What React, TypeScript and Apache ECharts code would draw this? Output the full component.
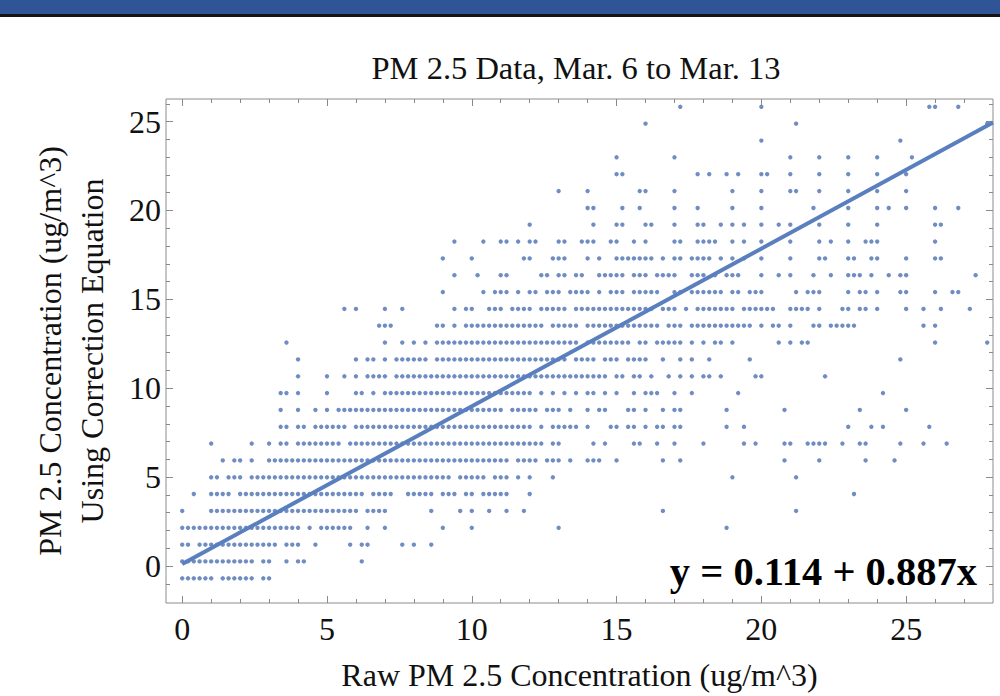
import React, { useEffect, useRef } from "react";
import * as echarts from "echarts";

// Quantized y levels (corrected concentration rows)
const ROW_Y = [
  -0.69, 0.26, 1.2, 2.15, 3.1, 4.05, 4.99, 5.94, 6.89, 7.83, 8.78, 9.73, 10.67, 11.62, 12.57,
  13.52, 14.46, 15.41, 16.36, 17.3, 18.25, 19.2, 20.14, 21.09, 22.04, 22.99, 23.93, 24.88, 25.83,
];

// Each row: one group per x unit, 5 cells per unit (x = unit + 0.2 * cell), '#' = point.
// '|' separates blocks of 5 units, '-' is an empty block of 5 units.
const ROWS = [
  "##### #.### ###.# #....",
  "##### ##### ###.# #..#. ##... | ..... .#...",
  "##.## ##### ##### ##.## #..#. | ....# .##.. ...#. #..#.",
  "##### ##### ##### ##### #.#.# | ##### ..#.. #.... ..... #.... | #.... ..... ..... #.... ..... | ..... ..... ..... ....#",
  "#.... ##### ##### ##### ##### | ##### #.### #.... ...#. ...#. | #..#. .#..# ..... ..... ..... | ..... ...#. ..... ..... ..... | ..... .#...",
  "..#.. ####. ##### ##### ##### | ##### ##.## ##..# ####. ###.# | #.### ##... #.... ..... ..... | - | ..... ..... ..... .#...",
  "..... ##.## #.### ##### ##### | ##### ##### ##### ##### ##.## | ###.# ##.#. #...# ..... ..... | ..... ..... ..... ..... #.... | ..... .#...",
  "..... ..#.# #.#.. ##### ##### | ##### ##### ##### ##### ##### | ##### ##.## ##.## #.#.. ###.. | #.... ...#. .#... ..... ..... | ....# ..... #.... ...#. ...#.",
  "..... #.... ..#.. #.##. ##### | ###.# ##### ##### ##### ##### | ##### ##### ###.# #.... .#.#. | ...## ..#.. #.... #.... ..#.# | ....# #..## ##..# ..##. ....# | ...#. ..#..",
  "..... ..... ..... ..##. ##.## | ####. ##### ##### ##### ##### | ##### ##### #.#.# ####. #...# | #.##. #.##. ##... ....# ..#.. | ..... ..... ..... #...# .#... | ....#",
  "..... ..... ..... ..#.. #..#. | #.### ##### ##### ##### ##### | ##### #.### ##.## #.#.. #.##. | ..##. #..#. ##... ....# ..... | ....# ..... ..... ..#.. ..... | #....",
  "..... ..... ..... ..##. #.... | #.... ##.#. ##### ##### ##### | ##### ##### #.#.# .#.#. ##.#. | #..#. ###.. #..#. ..... .#... | ..... ..... ..... ..... .#...",
  "..... ..... ..... ..... #.... | #..#. #.### #.### ##### ##### | ##### ##### ##### ##### ####. | ##.## .#..# .#.#. ##.#. ....# | #.... ..... .#...",
  "..... ..... ..... ..... #.... | ..... #.##. #.### ###.# ##### | ##### ##### ##### ##.## ##.## | #.### #..#. .#.#. .#... ...#. | ..... ..... ..... ..... ....#",
  "..... ..... ..... ...#. ..... | ..... ..... #..#. #.#.# ##### | ##### ##### ##### ####. ##### | ###.# #.### ##.#. #.##. #.... | ...#. #.##. ..... ..... ..... | ..... #.... ....#",
  "- | ..... ....# ##... ....# #.#.# | ##### ##### ###.# ####. ##### | ##### ###.# ##.## ##### ####. | #.##. #...# #.### ##... ..... | ...#. #....",
  "- | ...#. #.... #..#. ..... ..#.# | #..## #.### #.### ##.## ##### | ##### ##.## #.#.# ##### #.### | ###.. ####. #...# #.##. #.... | #..#. .#... .#...",
  "- | ..... ..... ..... ..... #.... | ..#.# ##.#. ##.## #.### #.#.# | ##.## ###.. ##.## ####. ##.## | #.... .#.## #.... #.##. #...# | #.... #..##",
  "- | ..... ..... ..... ..... ..#.. | .#... ##... ..##. ##.## ..### | ##.## #.### #..## #.#.# ##... | #..#. #...# ..#.. ###.# ..#.# | #.... ..... ..#..",
  "- | ..... ..... ..... ..... #.... | #.... ....# #...# ##... #.#.. | ##### ##.#. ##.## ##.#. #.#.. | #.... #.... ##... ##..# #.... | #.... ##...",
  "- | ..... ..... ..... ..... ..#.. | ..#.. ##.#. ##... ##..# ##..# | #..#. #.... ##..# ###.. #.#.. | #.... #.... #.#.. #..## #.... | ..... #....",
  "- | - | ..... ..... #.... ..... .#... | ##... ##... #...# #..#. #.#.. | #..#. #.... #.... #.... #.... | ..... ##...",
  "- | - | ..... ..... ..... ..... ##... | .#..# ..... #...# ..... #.... | #.... ....# ..... #.... #.#.. | #.... #...#",
  "- | - | ..... ..... ..... #.... #.... | ....# #.... #.... ..... #.... | #.... ##... #.... #.... #.... | #....",
  "- | - | - | ##... ..... ....# .#..# .#... | ##... #.... #.... #.... #.... | #....",
  "- | - | - | #.... ..... #.... ..... ..... | ..... #.... #.... #.... #.... | .#...",
  "- | - | - | - | #.... ..... ..... ..... ....#",
  "- | - | - | ..... #.... ..... ..... ..... | ..... .#... ..... ..... ..... | ..... ..... ....#",
  "- | - | - | ..... ..... .#... ..... ..... | #.... ..... ..... ..... ..... | ....# #...#",
];

// Fitted line y = 0.114 + 0.887x, drawn over the raw range
const FIT_LINE = [
  [0, 0.114],
  [28, 24.95],
];
const EQUATION = "y = 0.114 + 0.887x";

const X_MIN = -0.56;
const X_MAX = 28;
const Y_MIN = -2.08;
const Y_MAX = 26.27;
const MAJOR_TICKS = [0, 5, 10, 15, 20, 25];
const X_MINOR_TICKS = [0, 1, 2, 3, 4, 5, 6, 7, 8, 9, 10, 11, 12, 13, 14, 15, 16, 17, 18, 19, 20, 21, 22, 23, 24, 25, 26, 27];
const Y_MINOR_TICKS = [-1, 0, 1, 2, 3, 4, 5, 6, 7, 8, 9, 10, 11, 12, 13, 14, 15, 16, 17, 18, 19, 20, 21, 22, 23, 24, 25, 26];

const TITLE = "PM 2.5 Data, Mar. 6 to Mar. 13";
const X_NAME = "Raw PM 2.5 Concentration (ug/m^3)";
const Y_NAME = "PM 2.5 Concentration (ug/m^3)\nUsing Correction Equation";

function decodeRow(s: string): number[] {
  const xs: number[] = [];
  let unit = 0;
  for (const block of s.split("|")) {
    const b = block.trim();
    if (b === "-") {
      unit += 5;
      continue;
    }
    for (const g of b.split(/\s+/).filter(Boolean)) {
      for (let i = 0; i < g.length; i++) {
        if (g[i] === "#") xs.push(Math.round((unit + i * 0.2) * 10) / 10);
      }
      unit++;
    }
  }
  return xs;
}

export default function App() {
  const ref = useRef<HTMLDivElement>(null);

  useEffect(() => {
    if (!ref.current) return;
    const chart = echarts.init(ref.current, null, { renderer: "svg" });
    const points: number[][] = [];
    ROWS.forEach((r, k) => {
      decodeRow(r).forEach((x) => points.push([x, ROW_Y[k]]));
    });

    const font = "Liberation Serif";
    const tickColor = "#8a8a8a";
    const labelStyle = { fontFamily: font, fontSize: 32, color: "#111" };

    const xAxisDef = (pos: string, vals: number[], len: number, withLabels: boolean) => ({
      type: "value",
      position: pos,
      min: X_MIN,
      max: X_MAX,
      axisLine: { show: false, onZero: false },
      splitLine: { show: false },
      axisTick: { show: true, inside: true, length: len, customValues: vals, lineStyle: { color: tickColor, width: 1 } },
      axisLabel: withLabels
        ? { show: true, customValues: MAJOR_TICKS, margin: 10, ...labelStyle }
        : { show: false },
    });
    const yAxisDef = (pos: string, vals: number[], len: number, withLabels: boolean) => ({
      type: "value",
      position: pos,
      min: Y_MIN,
      max: Y_MAX,
      axisLine: { show: false, onZero: false },
      splitLine: { show: false },
      axisTick: { show: true, inside: true, length: len, customValues: vals, lineStyle: { color: tickColor, width: 1 } },
      axisLabel: withLabels
        ? { show: true, customValues: MAJOR_TICKS, margin: 5, ...labelStyle }
        : { show: false },
    });

    const xMain: any = xAxisDef("bottom", MAJOR_TICKS, 7, true);
    xMain.name = X_NAME;
    xMain.nameLocation = "middle";
    xMain.nameGap = 56;
    xMain.nameTextStyle = { fontFamily: font, fontSize: 32, color: "#111" };

    const yMain: any = yAxisDef("left", MAJOR_TICKS, 7, true);
    yMain.name = Y_NAME;
    yMain.nameLocation = "middle";
    yMain.nameRotate = 90;
    yMain.nameGap = 53;
    yMain.nameTextStyle = { fontFamily: font, fontSize: 32, lineHeight: 42, color: "#111" };

    chart.setOption({
      animation: false,
      backgroundColor: "#ffffff",
      title: {
        text: TITLE,
        left: 576,
        top: 51,
        textAlign: "center",
        padding: 0,
        textStyle: { fontFamily: font, fontSize: 32.5, fontWeight: "normal", color: "#111" },
      },
      grid: {
        left: 166,
        right: 7,
        top: 99,
        bottom: 89,
        show: true,
        borderColor: "#8c8c8c",
        borderWidth: 1,
        backgroundColor: "transparent",
      },
      xAxis: [
        xMain,
        xAxisDef("bottom", X_MINOR_TICKS, 4, false),
        xAxisDef("top", MAJOR_TICKS, 7, false),
        xAxisDef("top", X_MINOR_TICKS, 4, false),
      ],
      yAxis: [
        yMain,
        yAxisDef("left", Y_MINOR_TICKS, 4, false),
        yAxisDef("right", MAJOR_TICKS, 7, false),
        yAxisDef("right", Y_MINOR_TICKS, 4, false),
      ],
      series: [
        {
          type: "scatter",
          xAxisIndex: 0,
          yAxisIndex: 0,
          data: points,
          symbol: "circle",
          symbolSize: 4.4,
          itemStyle: { color: "#5f81bd", opacity: 0.9 },
          silent: true,
        },
        {
          type: "line",
          xAxisIndex: 0,
          yAxisIndex: 0,
          data: FIT_LINE,
          symbol: "none",
          lineStyle: { color: "#5a7fbe", width: 4 },
          silent: true,
        },
      ],
      graphic: [
        { type: "rect", shape: { x: 0, y: 0, width: 1000, height: 14 }, style: { fill: "#2f5597" } },
        { type: "rect", shape: { x: 0, y: 14, width: 1000, height: 3 }, style: { fill: "#141414" } },
        {
          type: "text",
          x: 977,
          y: 571,
          style: {
            text: EQUATION,
            fontFamily: font,
            fontSize: 40.5,
            fontWeight: "bold",
            fill: "#000",
            textAlign: "right",
            textVerticalAlign: "middle",
            align: "right",
            verticalAlign: "middle",
          },
        },
      ],
    });

    return () => chart.dispose();
  }, []);

  return <div ref={ref} style={{ position: "absolute", left: 0, top: 0, width: 1000, height: 696 }} />;
}
